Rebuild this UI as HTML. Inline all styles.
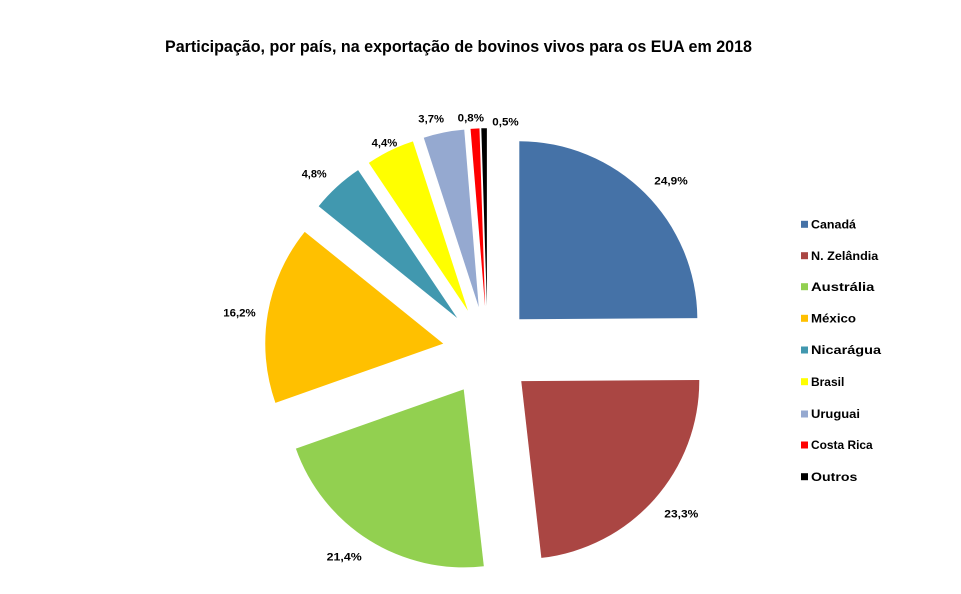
<!DOCTYPE html>
<html><head><meta charset="utf-8"><style>
html,body{margin:0;padding:0;background:#fff;}
svg{display:block;}
text{font-family:"Liberation Sans",sans-serif;font-weight:bold;fill:#000;}
</style></head><body>
<svg width="961" height="594" viewBox="0 0 961 594" xmlns="http://www.w3.org/2000/svg">
<rect width="961" height="594" fill="#fff"/>
<text x="165" y="52" font-size="16.5" textLength="587" lengthAdjust="spacingAndGlyphs">Participação, por país, na exportação de bovinos vivos para os EUA em 2018</text>

<path d="M519.32,319.28 L519.32,141.28 A178,178 0 0 1 697.32,318.16 Z" fill="#4572A7"/>
<path d="M521.26,381.07 L699.26,379.95 A178,178 0 0 1 541.36,557.93 Z" fill="#AA4643"/>
<path d="M463.73,389.35 L483.83,566.21 A178,178 0 0 1 295.88,448.59 Z" fill="#92D050"/>
<path d="M443.25,343.6 L275.40,402.84 A178,178 0 0 1 304.73,231.82 Z" fill="#FFC000"/>
<path d="M457.21,318.01 L318.69,206.23 A178,178 0 0 1 358.10,170.15 Z" fill="#4198AF"/>
<path d="M467.93,310.73 L368.82,162.87 A178,178 0 0 1 412.93,141.43 Z" fill="#FFFF00"/>
<path d="M478.75,307.08 L423.75,137.78 A178,178 0 0 1 464.23,129.67 Z" fill="#95A9D0"/>
<path d="M485.06,306.27 L470.54,128.86 A178,178 0 0 1 479.47,128.36 Z" fill="#FF0000"/>
<path d="M486.89,306.2 L481.30,128.29 A178,178 0 0 1 486.89,128.2 Z" fill="#000000"/>

<g font-size="11">
<text x="654.3" y="184.7" textLength="33.4" lengthAdjust="spacingAndGlyphs">24,9%</text>
<text x="664.3" y="517.3" textLength="34" lengthAdjust="spacingAndGlyphs">23,3%</text>
<text x="326.7" y="560.7" textLength="35" lengthAdjust="spacingAndGlyphs">21,4%</text>
<text x="223.3" y="316.7" textLength="32.4" lengthAdjust="spacingAndGlyphs">16,2%</text>
<text x="301.7" y="177.3" textLength="25" lengthAdjust="spacingAndGlyphs">4,8%</text>
<text x="371.7" y="146.3" textLength="25.6" lengthAdjust="spacingAndGlyphs">4,4%</text>
<text x="418.3" y="122.3" textLength="25.7" lengthAdjust="spacingAndGlyphs">3,7%</text>
<text x="457.7" y="121.7" textLength="26.3" lengthAdjust="spacingAndGlyphs">0,8%</text>
<text x="492.3" y="125.7" textLength="26.4" lengthAdjust="spacingAndGlyphs">0,5%</text>
</g>

<g font-size="11.8">
<rect x="801" y="220.8" width="7" height="7" fill="#4572A7"/>
<text x="811" y="228.5" textLength="45" lengthAdjust="spacingAndGlyphs">Canadá</text>
<rect x="801" y="252.2" width="7" height="7" fill="#AA4643"/>
<text x="811" y="259.9" textLength="67.3" lengthAdjust="spacingAndGlyphs">N. Zelândia</text>
<rect x="801" y="283.2" width="7" height="7" fill="#92D050"/>
<text x="811" y="290.9" textLength="63.3" lengthAdjust="spacingAndGlyphs">Austrália</text>
<rect x="801" y="314.8" width="7" height="7" fill="#FFC000"/>
<text x="811" y="322.5" textLength="45" lengthAdjust="spacingAndGlyphs">México</text>
<rect x="801" y="346.5" width="7" height="7" fill="#4198AF"/>
<text x="811" y="354.2" textLength="70" lengthAdjust="spacingAndGlyphs">Nicarágua</text>
<rect x="801" y="378.2" width="7" height="7" fill="#FFFF00"/>
<text x="811" y="385.9" textLength="33.3" lengthAdjust="spacingAndGlyphs">Brasil</text>
<rect x="801" y="410.5" width="7" height="7" fill="#95A9D0"/>
<text x="811" y="418.2" textLength="49" lengthAdjust="spacingAndGlyphs">Uruguai</text>
<rect x="801" y="441.5" width="7" height="7" fill="#FF0000"/>
<text x="811" y="449.2" textLength="61.7" lengthAdjust="spacingAndGlyphs">Costa Rica</text>
<rect x="801" y="473.2" width="7" height="7" fill="#000000"/>
<text x="811" y="480.9" textLength="46.3" lengthAdjust="spacingAndGlyphs">Outros</text>
</g>
</svg>
</body></html>
